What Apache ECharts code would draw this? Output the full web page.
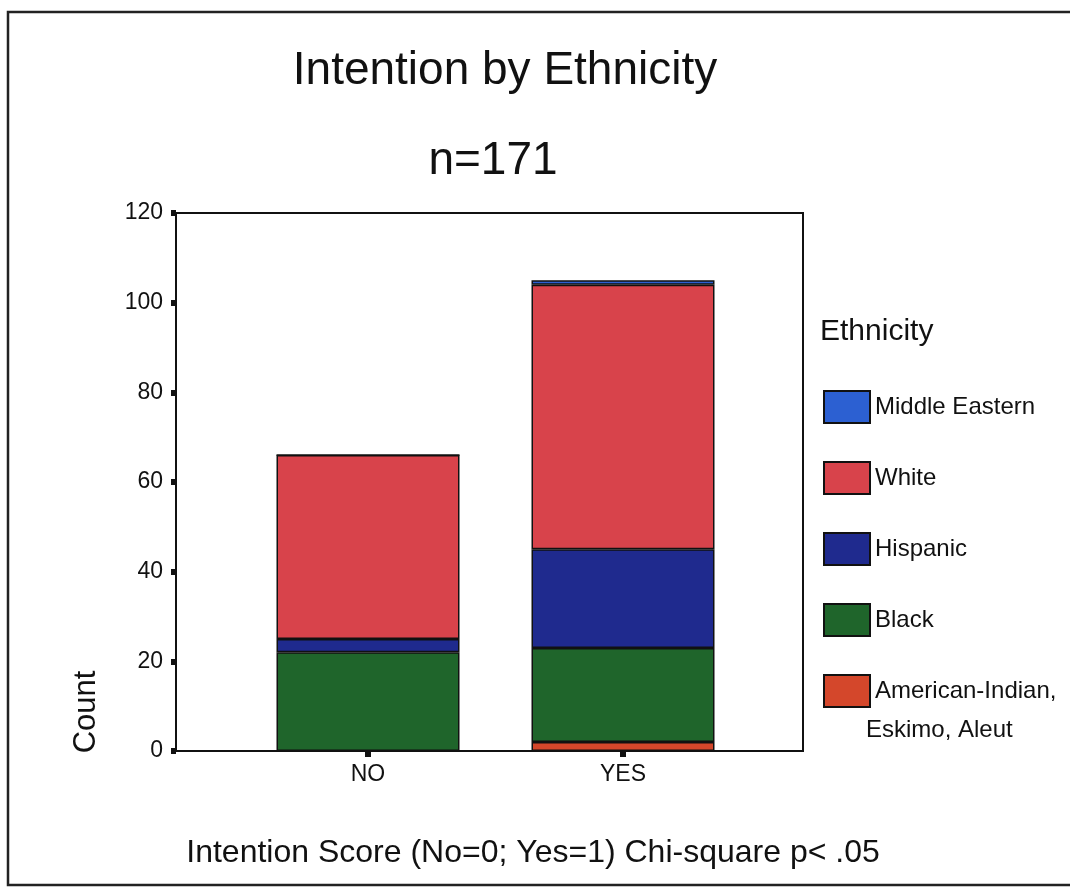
<!DOCTYPE html>
<html>
<head>
<meta charset="utf-8">
<script src="https://cdn.jsdelivr.net/npm/echarts@6/dist/echarts.min.js"></script>
<style>
html,body{margin:0;padding:0;background:#fff;}
#chart{width:1070px;height:890px;}
</style>
</head>
<body>
<div id="chart"></div>
<script>
// Intention score categories (No=0; Yes=1)
const intentionLabels = ['NO', 'YES'];

// Counts per ethnicity, for NO and YES (stack order bottom -> top)
const americanIndian = [0, 2];
const black = [22, 21];
const hispanic = [3, 22];
const white = [41, 59];
const middleEastern = [0, 1];

const seriesNames = ['American-Indian, Eskimo, Aleut', 'Black', 'Hispanic', 'White', 'Middle Eastern'];
const legendOrder = ['Middle Eastern', 'White', 'Hispanic', 'Black', 'American-Indian, Eskimo, Aleut'];
const seriesValues = [americanIndian, black, hispanic, white, middleEastern];
const seriesColors = ['#d4472b', '#1f652b', '#1f2a8e', '#d8434b', '#2c60d2'];

const FONT = "'Liberation Sans', Arial, sans-serif";
const chart = echarts.init(document.getElementById('chart'));

const series = seriesNames.map((name, i) => ({
  name: name,
  type: 'bar',
  stack: 'total',
  xAxisIndex: 1,
  yAxisIndex: 1,
  barWidth: 183,
  itemStyle: { color: seriesColors[i], borderColor: '#111', borderWidth: 1.5 },
  data: seriesValues[i]
}));

chart.setOption({
  backgroundColor: '#fff',
  animation: false,
  textStyle: { fontFamily: FONT },
  title: [
    { text: 'Intention by Ethnicity', left: 500, top: 43, textAlign: 'center',
      textStyle: { fontSize: 46, fontWeight: 'normal', color: '#111', fontFamily: FONT } },
    { text: 'n=171', left: 488, top: 133, textAlign: 'center',
      textStyle: { fontSize: 46, fontWeight: 'normal', color: '#111', fontFamily: FONT } },
    { text: 'Ethnicity', left: 815, top: 312,
      textStyle: { fontSize: 30, fontWeight: 'normal', color: '#111', fontFamily: FONT } }
  ],
  legend: {
    data: legendOrder,
    orient: 'vertical',
    left: 823,
    top: 390,
    padding: 0,
    itemWidth: 46,
    itemHeight: 32,
    itemGap: 37,
    icon: 'rect',
    formatter: n => n === 'American-Indian, Eskimo, Aleut' ? 'American-Indian,' : n,
    textStyle: { fontSize: 24, color: '#111', fontFamily: FONT }
  },
  grid: [
    { left: 176, right: 267, top: 213, bottom: 139, show: true, borderColor: '#111', borderWidth: 2, backgroundColor: 'transparent' },
    { left: 240.5, right: 319.5, top: 213, bottom: 139 }
  ],
  xAxis: [
    {
      type: 'value', gridIndex: 0, min: 0, max: 1,
      splitLine: { show: false },
      axisLine: { show: true, onZero: false, lineStyle: { color: '#111', width: 2 } },
      axisTick: { show: false },
      axisLabel: { show: false }
    },
    {
      type: 'category', gridIndex: 1, data: intentionLabels,
      axisLine: { show: false },
      axisTick: { show: true, alignWithLabel: true, length: 6, lineStyle: { color: '#111', width: 6 } },
      axisLabel: { fontSize: 23, color: '#111', margin: 12, fontFamily: FONT }
    }
  ],
  yAxis: [
    {
      type: 'value', gridIndex: 0,
      min: 0, max: 120, interval: 20,
      splitLine: { show: false },
      axisLine: { show: true, onZero: false, lineStyle: { color: '#111', width: 2 } },
      axisTick: { show: true, length: 5, lineStyle: { color: '#111', width: 6 } },
      axisLabel: { fontSize: 23, color: '#111', margin: 13, fontFamily: FONT }
    },
    {
      type: 'value', gridIndex: 1,
      min: 0, max: 120, interval: 20, show: false,
      splitLine: { show: false }
    }
  ],
  graphic: [
    { type: 'rect', shape: { x: 8, y: 12, width: 1080, height: 873 }, silent: true,
      style: { fill: 'none', stroke: '#222', lineWidth: 2.5 }, z: -1 },
    { type: 'text', x: 86, y: 712, rotation: Math.PI / 2, silent: true,
      style: { text: 'Count', fontSize: 31, fill: '#111', fontFamily: FONT, textAlign: 'center', textVerticalAlign: 'middle' } },
    { type: 'text', x: 533, y: 853, silent: true,
      style: { text: 'Intention Score (No=0; Yes=1) Chi-square p< .05', fontSize: 32, fill: '#111', fontFamily: FONT, textAlign: 'center', textVerticalAlign: 'middle' } },
    { type: 'text', x: 866, y: 730, silent: true,
      style: { text: 'Eskimo, Aleut', fontSize: 24, fill: '#111', fontFamily: FONT, textAlign: 'left', textVerticalAlign: 'middle' } }
  ],
  series: series
});
</script>
</body>
</html>
